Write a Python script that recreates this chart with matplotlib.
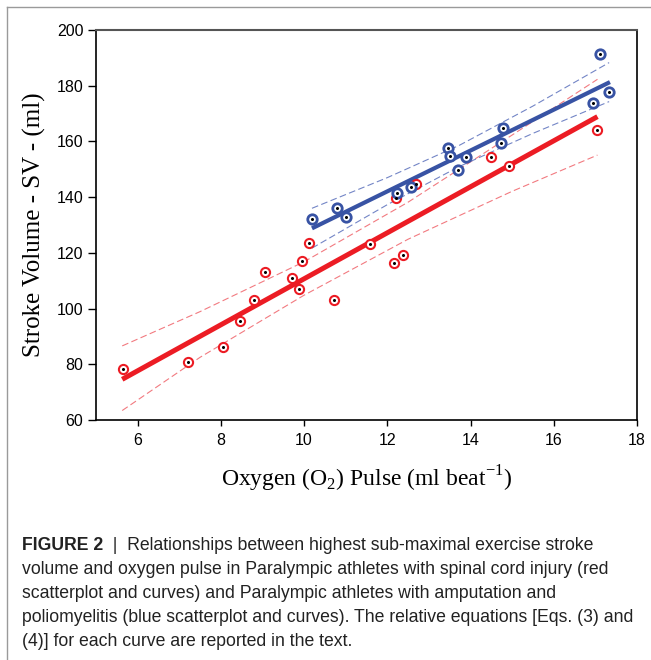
import matplotlib
matplotlib.use("Agg")
import matplotlib.pyplot as plt
from matplotlib.lines import Line2D

# values
sci_x = [5.64, 7.21, 8.05, 8.45, 8.80, 9.07, 9.72, 9.87, 9.94, 10.13,
         10.71, 11.58, 12.16, 12.37, 12.22, 12.68, 14.48, 14.93, 17.05]
sci_y = [78.3, 80.7, 86.2, 95.4, 103.0, 113.0, 111.1, 107.0, 117.0, 123.5,
         103.1, 123.2, 116.5, 119.3, 139.8, 144.8, 154.5, 151.3, 164.0]
amp_x = [10.19, 10.78, 11.01, 12.23, 12.57, 13.47, 13.50, 13.90, 13.70,
         14.77, 14.73, 16.94, 17.11, 17.33]
amp_y = [132.3, 136.1, 133.0, 141.6, 143.8, 157.5, 154.8, 154.4, 149.9,
         164.9, 159.5, 173.8, 191.5, 177.6]

# fitted lines (end points) and confidence bands
sci_fit_x = [5.63, 17.05]
sci_fit_y = [74.6, 168.9]
sci_band_x = [5.63, 7.5, 10.0, 12.5, 15.0, 17.05]
sci_band_hi = [86.6, 98.9, 116.8, 138.2, 162.3, 182.3]
sci_band_lo = [63.4, 82.5, 104.8, 124.9, 142.1, 155.1]

amp_fit_x = [10.19, 17.35]
amp_fit_y = [128.8, 181.3]
amp_band_x = [10.19, 12.0, 13.73, 15.5, 17.33]
amp_band_hi = [136.0, 147.0, 158.6, 172.7, 188.3]
amp_band_lo = [121.7, 137.3, 151.0, 162.9, 174.3]

xticks = [6, 8, 10, 12, 14, 16, 18]
yticks = [60, 80, 100, 120, 140, 160, 180, 200]

RED = "#ec1c24"
RED_D = "#f27a80"
BLUE = "#3853a4"
BLUE_D = "#7385c6"

plt.rcParams["mathtext.fontset"] = "custom"
plt.rcParams["mathtext.rm"] = "Liberation Serif"

fig = plt.figure(figsize=(6.51, 6.60), dpi=100)
ax = fig.add_axes([96 / 651, 1 - 420 / 660, (637 - 96) / 651, (420 - 30) / 660])

dash = (0, (6, 3))
ax.plot(sci_band_x, sci_band_hi, color=RED_D, lw=0.8, ls=dash, zorder=2)
ax.plot(sci_band_x, sci_band_lo, color=RED_D, lw=0.8, ls=dash, zorder=2)
ax.plot(amp_band_x, amp_band_hi, color=BLUE_D, lw=0.8, ls=dash, zorder=2)
ax.plot(amp_band_x, amp_band_lo, color=BLUE_D, lw=0.8, ls=dash, zorder=2)
ax.plot(sci_fit_x, sci_fit_y, color=RED, lw=3.6, solid_capstyle="butt", zorder=3)
ax.plot(amp_fit_x, amp_fit_y, color=BLUE, lw=3.0, solid_capstyle="butt", zorder=3)

ax.plot(sci_x, sci_y, ls="none", marker="o", ms=6.6, mfc="white", mec=RED, mew=1.5, zorder=4)
ax.plot(amp_x, amp_y, ls="none", marker="o", ms=6.8, mfc="white", mec=BLUE, mew=2.0, zorder=4)
ax.plot(sci_x + amp_x, sci_y + amp_y, ls="none", marker="o", ms=1.2, color="black", zorder=5)

ax.set_xlim(5, 18)
ax.set_ylim(60, 200)
ax.set_xticks(xticks)
ax.set_yticks(yticks)
ax.tick_params(axis="x", direction="out", length=4.5, width=1.0, pad=5,
               labelsize=11.5, colors="black")
ax.tick_params(axis="y", direction="out", length=6, width=1.0, pad=3,
               labelsize=11.5, colors="black")
for lab in ax.get_xticklabels() + ax.get_yticklabels():
    lab.set_fontfamily("Liberation Sans")
for s in ["left", "bottom", "right"]:
    ax.spines[s].set_color("black")
    ax.spines[s].set_linewidth(1.2)
ax.spines["top"].set_color("#555555")
ax.spines["top"].set_linewidth(1.5)

ax.set_xlabel(r"Oxygen (O$_{\mathregular{2}}$) Pulse (ml beat$^{\mathregular{-1}}$)",
              fontfamily="Liberation Serif", fontsize=17, labelpad=11)
ax.set_ylabel("Stroke Volume - SV - (ml)", fontfamily="Liberation Serif",
              fontsize=18, labelpad=8)

# outer frame (left and top edges)
fig.add_artist(Line2D([7 / 651, 7 / 651], [0, 1 - 7 / 660], color="#9a9a9a", lw=1.0))
fig.add_artist(Line2D([7 / 651, 1], [1 - 7 / 660, 1 - 7 / 660], color="#9a9a9a", lw=1.0))

cap_lines = [
    "  |  Relationships between highest sub-maximal exercise stroke",
    "volume and oxygen pulse in Paralympic athletes with spinal cord injury (red",
    "scatterplot and curves) and Paralympic athletes with amputation and",
    "poliomyelitis (blue scatterplot and curves). The relative equations [Eqs. (3) and",
    "(4)] for each curve are reported in the text.",
]
CAP = 12.7
cx = 22 / 651
y0 = 545
step = 24
t1 = fig.text(cx, 1 - y0 / 660, "FIGURE 2", fontfamily="Liberation Sans", fontsize=CAP,
              fontweight="bold", color="#222222", va="center", ha="left")
ax.annotate(cap_lines[0], xy=(1, 0), xycoords=t1, va="bottom", ha="left",
            fontfamily="Liberation Sans", fontsize=CAP, color="#222222",
            annotation_clip=False)
for i, line in enumerate(cap_lines[1:], start=1):
    fig.text(cx, 1 - (y0 + i * step) / 660, line, fontfamily="Liberation Sans",
             fontsize=CAP, color="#222222", va="center", ha="left")

fig.savefig("out.png", dpi=100)
